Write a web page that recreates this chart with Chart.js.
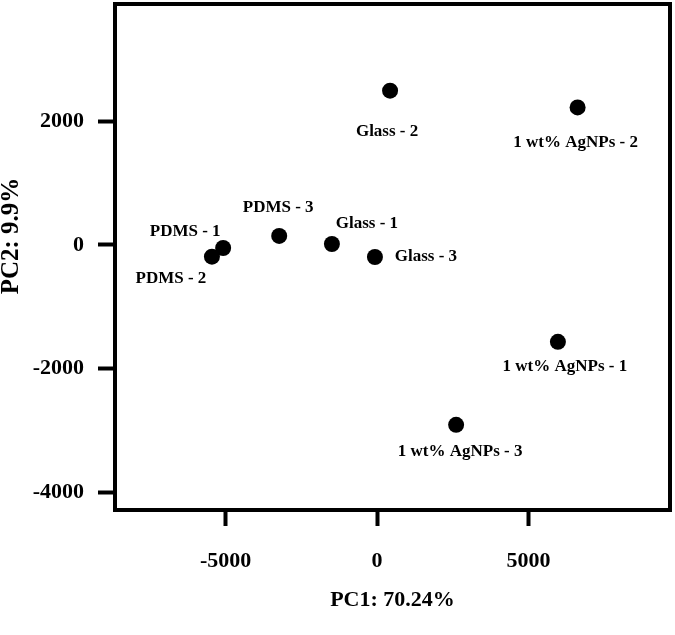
<!DOCTYPE html>
<html>
<head>
<meta charset="utf-8">
<script src="https://cdn.jsdelivr.net/npm/chart.js@4.4.1/dist/chart.umd.min.js"></script>
<style>
  body { margin: 0; background: #fff; }
</style>
</head>
<body>
<canvas id="pcaChart" width="675" height="635"></canvas>
<script>
// PCA scores
const sampleNames = ["PDMS - 1", "PDMS - 2", "PDMS - 3", "Glass - 1", "Glass - 2", "Glass - 3",
                     "1 wt% AgNPs - 1", "1 wt% AgNPs - 2", "1 wt% AgNPs - 3"];
const pc1Values = [-5080, -5450, -3230, -1490, 430, -70, 5970, 6620, 2610];
const pc2Values = [-50, -190, 145, 15, 2490, -195, -1565, 2220, -2905];
const xTickValues = [-5000, 0, 5000];
const yTickValues = [-4000, -2000, 0, 2000];

// where each label sits, in px from its point
const labelOffsets = [[-38, -16], [-41, 22], [-1, -28], [35, -20], [-3, 41], [51, 0], [7, 25], [-2, 35], [4, 27]];

const serif = 'Liberation Serif';

const frameAndLabels = {
  id: 'frameAndLabels',
  afterDatasetsDraw(chart) {
    const ctx = chart.ctx;
    const area = chart.chartArea;
    const meta = chart.getDatasetMeta(0);
    ctx.save();
    ctx.font = 'bold 17px "' + serif + '"';
    ctx.fillStyle = '#000';
    ctx.textAlign = 'center';
    ctx.textBaseline = 'middle';
    meta.data.forEach((pt, i) => {
      ctx.fillText(sampleNames[i], pt.x + labelOffsets[i][0], pt.y + labelOffsets[i][1]);
    });
    // box round the plot
    ctx.lineWidth = 4;
    ctx.strokeStyle = '#000';
    ctx.strokeRect(area.left, area.top, area.right - area.left, area.bottom - area.top);
    // y axis title, a bit above the middle of the axis as in the figure
    ctx.font = 'bold 25px "' + serif + '"';
    ctx.translate(12, 236);
    ctx.rotate(-Math.PI / 2);
    ctx.fillText('PC2: 9.9%', 0, 0);
    ctx.restore();
  }
};

const points = pc1Values.map((v, i) => ({ x: v, y: pc2Values[i] }));

new Chart(document.getElementById('pcaChart').getContext('2d'), {
  type: 'scatter',
  data: {
    datasets: [{
      label: 'PCA',
      data: points,
      pointRadius: 8,
      pointHoverRadius: 8,
      backgroundColor: '#000',
      borderWidth: 0
    }]
  },
  options: {
    responsive: false,
    animation: false,
    events: [],
    layout: { autoPadding: false, padding: { top: 4, right: 5, left: 0, bottom: 0 } },
    plugins: {
      legend: { display: false },
      tooltip: { enabled: false }
    },
    scales: {
      x: {
        type: 'linear',
        min: -8650,
        max: 9670,
        afterBuildTicks: s => { s.ticks = xTickValues.map(v => ({ value: v })); },
        afterFit: s => { s.height = 125; s.paddingLeft = 0; s.paddingRight = 0; },
        grid: { display: true, drawOnChartArea: false, drawTicks: true, tickLength: 16, tickWidth: 4, tickColor: '#000' },
        border: { display: false },
        ticks: {
          color: '#000',
          padding: 22,
          maxRotation: 0,
          font: { family: serif, size: 22, weight: 'bold' },
          callback: v => String(v)
        },
        title: {
          display: true,
          text: 'PC1: 70.24%',
          color: '#000',
          font: { family: serif, size: 22, weight: 'bold' },
          padding: { top: 0, bottom: 21 }
        }
      },
      y: {
        type: 'linear',
        min: -4280,
        max: 3890,
        afterBuildTicks: s => { s.ticks = yTickValues.map(v => ({ value: v })); },
        afterFit: s => { s.width = 115; s.paddingTop = 0; s.paddingBottom = 0; },
        grid: { display: true, drawOnChartArea: false, drawTicks: true, tickLength: 17, tickWidth: 4, tickColor: '#000' },
        border: { display: false },
        ticks: {
          color: '#000',
          padding: 14,
          font: { family: serif, size: 22, weight: 'bold' },
          callback: v => String(v)
        }
      }
    }
  },
  plugins: [frameAndLabels]
});
</script>
</body>
</html>
